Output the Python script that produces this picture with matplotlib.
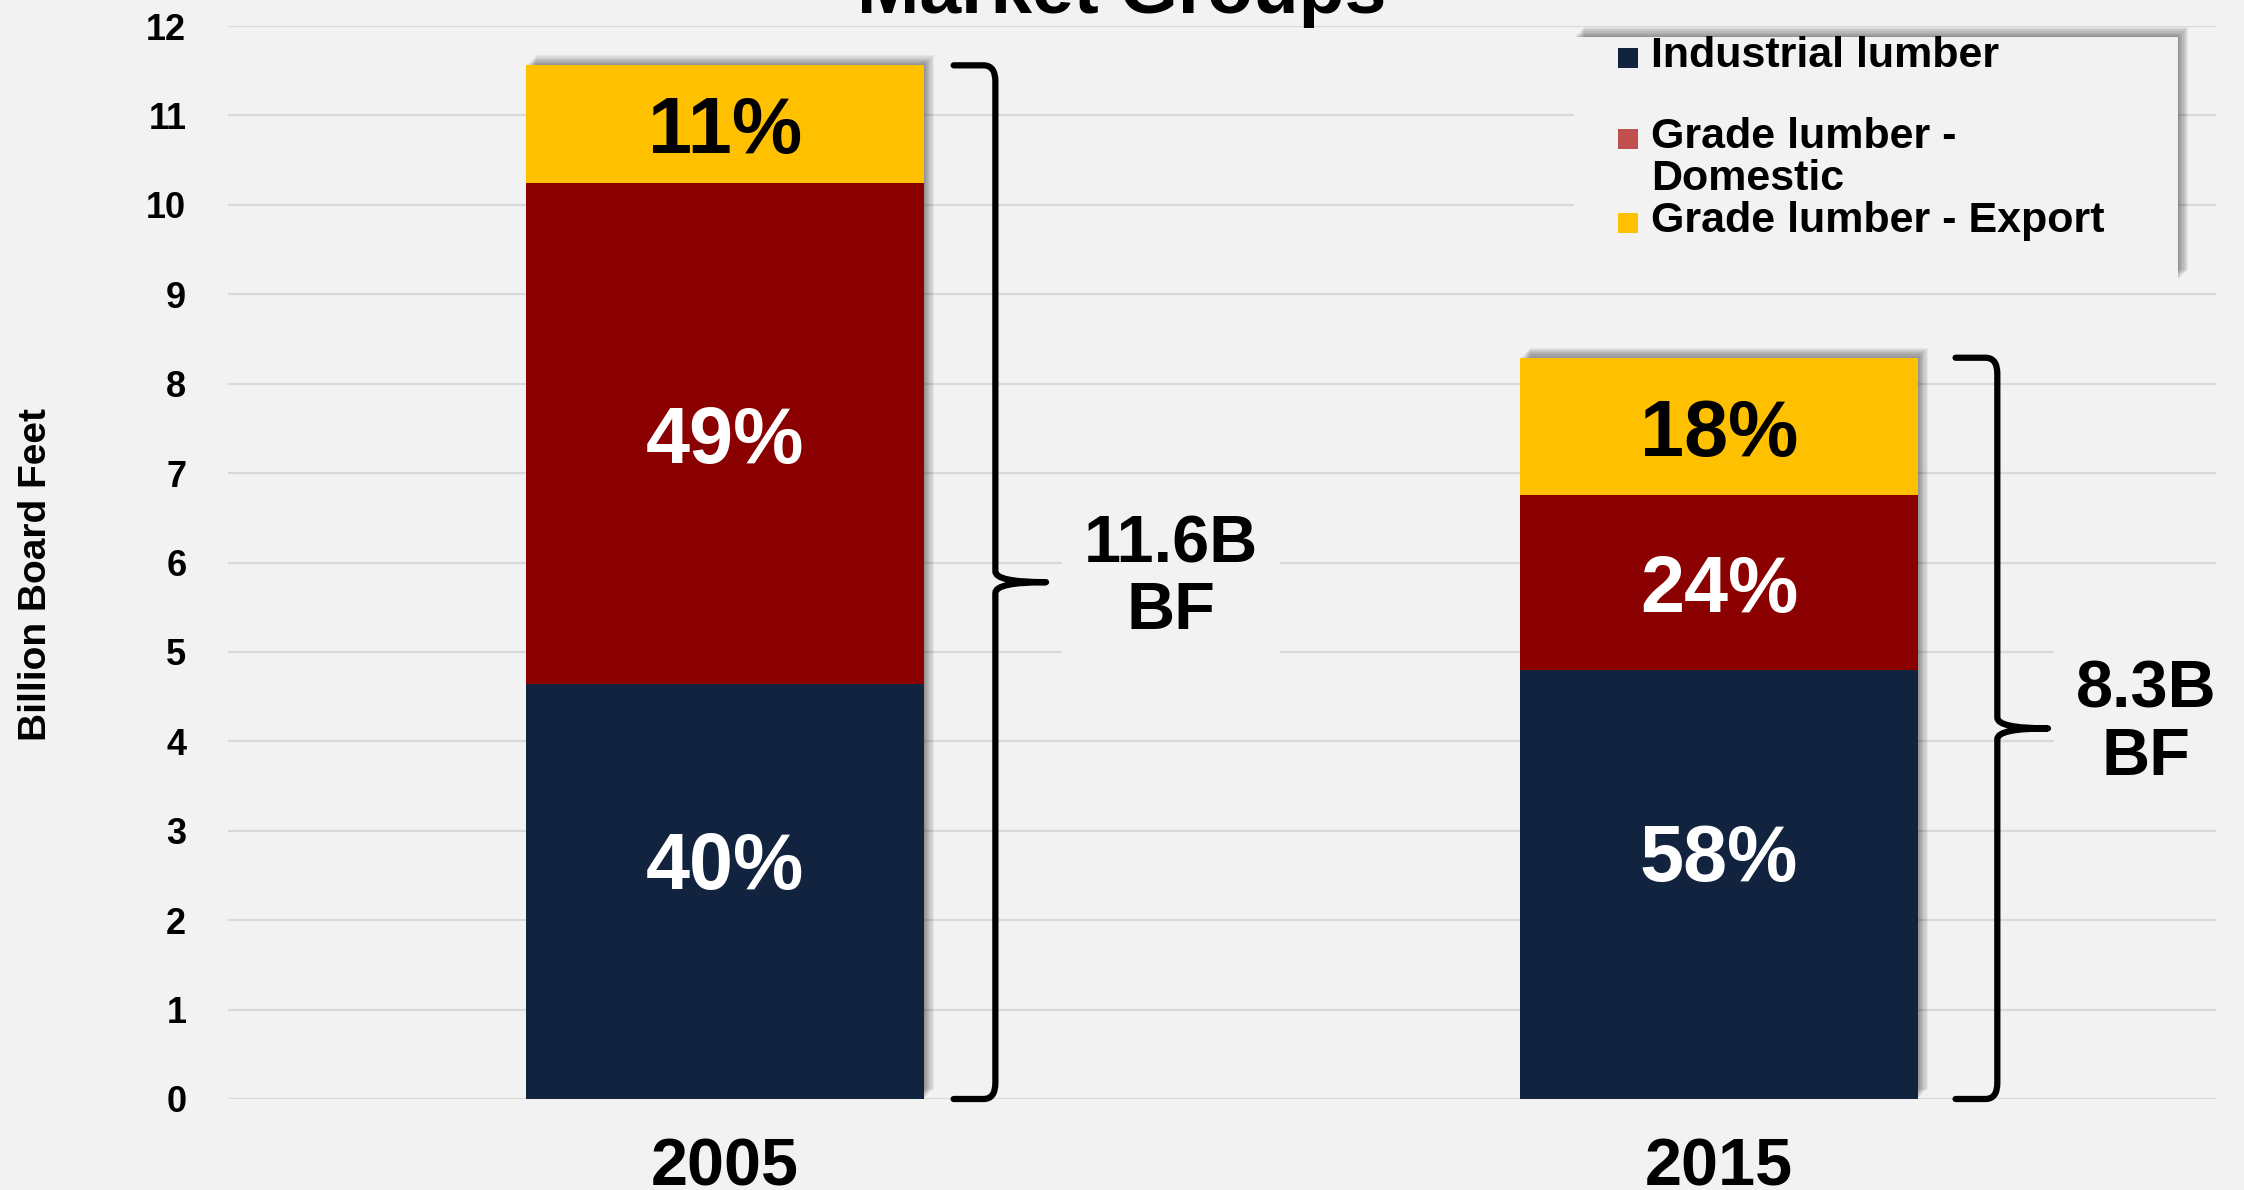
import numpy as np
import matplotlib
matplotlib.use("Agg")
from matplotlib import pyplot as plt
from matplotlib import patheffects as pe
from matplotlib.path import Path
from matplotlib.patches import PathPatch, Rectangle

plt.rcParams['font.family'] = ['Liberation Sans', 'DejaVu Sans']

years = ["2005", "2015"]
series = ["Industrial lumber", "Grade lumber -\nDomestic", "Grade lumber - Export"]
industrial = [4.64, 4.80]
domestic = [5.60, 1.95]
export = [1.32, 1.54]
shares = [["40%", "49%", "11%"], ["58%", "24%", "18%"]]
totals = [11.6, 8.3]
total_labels = ["11.6B\nBF", "8.3B\nBF"]

bar_colors = ["#12233f", "#8b0000", "#ffc000"]
legend_colors = ["#12233f", "#c0504d", "#ffc000"]
text_colors = ["white", "white", "black"]
bg = "#f2f2f2"

W, H = 2244, 1190
fig = plt.figure(figsize=(W / 100, H / 100), dpi=100, facecolor=bg)
ax = fig.add_axes([228 / W, 91 / H, (2216 - 228) / W, (1099 - 26) / H])
ax.set_facecolor(bg)

shadow = [pe.SimplePatchShadow(offset=(i * 0.8, i * 0.8), shadow_rgbFace="k", alpha=0.05)
          for i in range(1, 10)] + [pe.Normal()]

x = np.arange(len(years))
bottom = np.zeros(len(years))
for j, vals in enumerate([industrial, domestic, export]):
    bars = ax.bar(x, vals, 0.4, bottom=bottom, color=bar_colors[j], zorder=3 + j * 0.01)
    for b in bars:
        b.set_path_effects(shadow)
    for i, b in enumerate(bars):
        yc = bottom[i] + vals[i] / 2
        off = 23 if j == 0 else 0
        ax.annotate(shares[i][j], (x[i], yc), xytext=(0, off), textcoords="offset points",
                    ha="center", va="center_baseline", fontsize=57, fontweight="bold",
                    color=text_colors[j], zorder=5)
    bottom += np.array(vals)


def brace(xc, top):
    x0, xv, xt = xc + 0.23, xc + 0.272, xc + 0.323
    mid = top / 2
    d = 0.18
    verts = [(x0, top), (xv - 0.012, top), (xv, top), (xv, top - d),
             (xv, mid + 0.12), (xv, mid), (xt, mid),
             (xv, mid), (xv, mid - 0.12),
             (xv, d), (xv, 0), (xv - 0.012, 0), (x0, 0)]
    codes = [Path.MOVETO, Path.LINETO, Path.CURVE3, Path.CURVE3,
             Path.LINETO, Path.CURVE3, Path.CURVE3,
             Path.CURVE3, Path.CURVE3,
             Path.LINETO, Path.CURVE3, Path.CURVE3, Path.LINETO]
    ax.add_patch(PathPatch(Path(verts, codes), fill=False, lw=4.5, color="black",
                           capstyle="round", joinstyle="round", zorder=4, clip_on=False))


label_pos = [(0.449, 5.82), (1.43, 4.19)]
for i in range(len(years)):
    brace(x[i] + (0.008 if i == 1 else 0), bottom[i])
    ax.text(label_pos[i][0], label_pos[i][1], total_labels[i], ha="center", va="center",
            fontsize=48, fontweight="bold", linespacing=1.1, zorder=4,
            bbox=dict(facecolor=bg, edgecolor="none", pad=16))

ax.set_xlim(-0.5, 1.5)
ax.set_ylim(0, 12)
ax.set_yticks(range(0, 13))
ax.set_xticks(x)
ax.set_xticklabels(years, fontsize=48, fontweight="bold")
ax.tick_params(axis="y", length=0, pad=30, labelsize=26)
ax.tick_params(axis="x", length=0, pad=28)
for lab in ax.get_yticklabels():
    lab.set_fontweight("bold")
ax.grid(axis="y", color="#d9d9d9", lw=1.6, zorder=0)
ax.set_axisbelow(True)
for s in ax.spines.values():
    s.set_visible(False)
ax.set_ylabel("Billion Board Feet", fontsize=28, fontweight="bold")
ax.yaxis.set_label_coords(-0.0875, 0.489)

fig.text(0.5, 1 - 13 / H, "Market Groups", ha="center", va="baseline",
         fontsize=54, fontweight="bold")

# legend drawn in figure pixels
def fx(px):
    return px / W


def fy(py):
    return 1 - py / H


box = Rectangle((fx(1574), fy(280)), fx(2178) - fx(1574), fy(37) - fy(280),
                transform=fig.transFigure, facecolor=bg, edgecolor="none", zorder=6)
box.set_path_effects(shadow)
fig.add_artist(box)
rows = [58, 139, 223]
for k, name in enumerate(series):
    fig.add_artist(Rectangle((fx(1618), fy(rows[k] + 10)), 20 / W, 20 / H,
                             transform=fig.transFigure, facecolor=legend_colors[k],
                             edgecolor="none", zorder=7))
    fig.text(fx(1651), fy(rows[k] - 22), name, ha="left", va="top", fontsize=31,
             fontweight="bold", linespacing=1.05, zorder=7)

fig.savefig("out.png", dpi=100, facecolor=bg)
